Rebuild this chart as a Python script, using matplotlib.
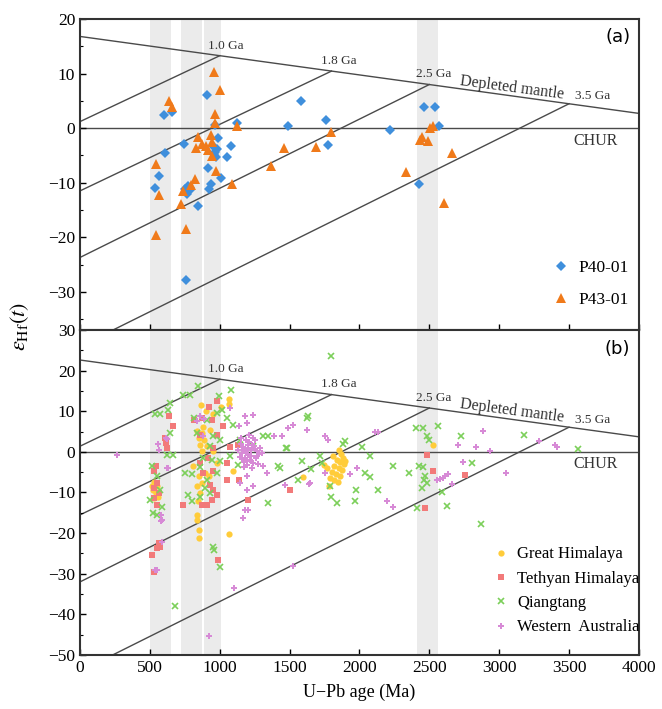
import numpy as np
import matplotlib
matplotlib.use("Agg")
import matplotlib.pyplot as plt
from matplotlib.ticker import MultipleLocator

plt.rcParams["font.family"] = ["Liberation Serif", "DejaVu Serif"]
plt.rcParams["mathtext.fontset"] = "stix"

# grey age windows (Ma)
age_bands = [(500, 650), (720, 870), (890, 1010), (2410, 2560)]
model_ages = [1000, 1800, 2500, 3500]
model_labels = ["1.0 Ga", "1.8 Ga", "2.5 Ga", "3.5 Ga"]

# depleted mantle and crustal evolution reference frames for each panel
dm_a = (16.8, 2.7)          # eHf at 0 and 4000 Ma
crust_a = [1.2, -11.5, -23.7, -40.0]   # intercepts at 0 Ma
dm_b = (22.6, 3.7)
crust_b = [1.4, -15.5, -32.0, -54.0]

# (a) detrital zircons
p40_age = [601, 656, 911, 964, 611, 742, 565, 534, 750, 762, 775, 785, 768, 790,
           844, 756, 920, 937, 918, 960, 968, 975, 962, 980, 987, 1052, 1078, 1011,
           1121, 1581, 1488, 1760, 1774, 2220, 2461, 2542, 2568, 2425]
p40_eps = [2.4, 3.0, 6.1, 0.5, -4.5, -2.9, -8.7, -11.0, -11.2, -11.8, -10.6, -11.4,
           -12.0, -10.9, -14.2, -27.9, -11.1, -10.2, -7.3, -3.5, -4.4, -5.3, -4.8,
           -3.9, -1.8, -5.3, -3.2, -9.2, 1.0, 5.0, 0.4, 1.4, -3.1, -0.3, 3.9, 3.9,
           0.4, -10.2]
p43_age = [956, 999, 637, 660, 966, 966, 1121, 542, 563, 542, 758, 720, 825, 794,
           735, 842, 830, 873, 901, 935, 944, 916, 942, 973, 1085, 1364, 1459, 1688,
           1796, 2506, 2523, 2451, 2432, 2492, 2664, 2332, 2607]
p43_eps = [10.2, 7.0, 4.9, 3.8, 2.5, 0.9, 0.4, -6.6, -12.2, -19.6, -18.5, -13.9,
           -9.4, -10.4, -11.6, -1.7, -3.7, -3.0, -3.3, -1.2, -2.6, -4.1, -5.2, -7.8,
           -10.3, -6.9, -3.6, -3.4, -0.8, 0.0, 0.3, -1.6, -2.2, -2.3, -4.6, -8.1,
           -13.8]

# (b) compiled data
gh_age = [529, 549, 520, 544, 560, 529, 513, 863, 899, 835, 870, 854, 887, 859,
          906, 870, 930, 954, 882, 1068, 1064, 1006, 954, 811, 854, 870, 835, 859,
          847, 835, 840, 851, 851, 1068, 925, 978, 1097, 894, 1850, 1870, 1880,
          1840, 1860, 1890, 1820, 1850, 1875, 1800, 1835, 1860, 1790, 1820, 1845,
          1770, 1745, 1810, 1900, 1780, 1598, 2524]
gh_eps = [-7.3, -8.5, -9.3, -10.2, -11.0, -11.4, -8.5, 11.6, 10.0, 5.2, 4.7, 3.4,
          3.0, 1.8, 1.4, 0.3, 5.5, 0.1, 6.1, 13.0, 11.7, 11.1, 9.3, -3.6, -6.0,
          -7.7, -8.5, -10.2, -12.2, -15.5, -16.7, -19.2, -21.3, -20.3, -6.0, -2.8,
          -4.8, -5.2, 0.5, -0.5, -1.5, -2.0, -2.5, -3.0, -3.5, -4.0, -4.5, -5.0,
          -5.5, -6.0, -6.5, -7.0, -7.5, -4.0, -3.2, -1.0, -2.2, -8.3, -6.2, 1.8]
th_age = [637, 663, 608, 615, 620, 544, 529, 549, 532, 568, 529, 549, 513, 532,
          568, 553, 572, 925, 983, 873, 947, 1026, 816, 859, 978, 954, 1073, 1133,
          918, 859, 1049, 954, 882, 1049, 1140, 930, 954, 978, 942, 870, 906, 735,
          1204, 987, 1503, 2481, 2528, 2755, 2469]
th_eps = [8.8, 6.3, 3.4, 2.2, 1.0, -3.6, -4.8, -7.7, -8.9, -10.2, -11.4, -13.0,
          -25.4, -29.5, -22.5, -23.7, -23.3, 11.1, 12.5, 8.4, 7.8, 6.3, 7.9, 4.2,
          4.2, 1.0, 1.3, 1.7, -1.5, -2.8, -2.8, -4.8, -5.2, -6.9, -6.9, -8.1, -9.3,
          -10.6, -11.8, -13.0, -13.0, -13.0, -11.8, -26.5, -9.3, -0.7, -4.6, -5.8,
          -13.9]
qt_age = [847, 739, 787, 997, 1080, 644, 632, 572, 537, 644, 620, 668, 816, 906,
          1049, 978, 1014, 835, 954, 1002, 930, 1097, 1144, 882, 942, 1002, 1073,
          859, 978, 906, 751, 804, 894, 930, 775, 799, 859, 954, 961, 1002, 680,
          513, 501, 520, 553, 584, 572, 549, 1133, 1240, 1312, 1348, 1348, 1419,
          1479, 1622, 1586, 1562, 1729, 1795, 1634, 1474, 1431, 1717, 1896, 2020,
          2075, 2237, 2039, 2075, 1789, 1653, 1975, 1794, 1884, 2135, 1837, 1968,
          2404, 2457, 2564, 2481, 2500, 2428, 2452, 2469, 2464, 2481, 2445, 2409,
          2588, 2628, 2724, 2807, 2867, 3180, 3561, 2354]
qt_eps = [16.2, 14.1, 13.9, 13.7, 15.3, 12.1, 10.4, 9.2, 9.2, 4.7, -0.7, -0.7,
          8.4, 7.9, 8.4, 9.6, 10.4, 4.7, 3.8, 3.0, 1.4, 6.7, 3.0, -1.5, -1.9, -2.3,
          -1.1, -3.8, -5.2, -6.9, -5.2, -5.4, -8.9, -10.2, -10.6, -12.2, -11.0,
          -23.3, -24.2, -28.3, -38.0, -3.6, -11.8, -15.1, -15.5, -13.5, -9.3, -6.0,
          -3.2, 1.4, 3.8, 3.8, -12.5, -3.6, 1.0, 8.4, -2.3, -6.9, -2.8, 23.5, 8.8,
          1.0, -4.0, -1.1, 2.6, 1.1, -0.9, -3.4, -5.1, -6.3, -8.5, -4.1, -9.5,
          -11.0, 2.0, -9.3, -12.6, -12.0, 5.8, 5.8, 6.3, 3.8, 3.0, -3.4, -3.8, -6.0,
          -6.9, -7.7, -8.9, -13.9, -9.8, -13.4, 3.9, -2.8, -17.8, 4.2, 0.6, -5.1]
wa_age = [1130, 1145, 1150, 1160, 1165, 1170, 1175, 1180, 1185, 1190, 1195, 1200,
          1205, 1210, 1215, 1220, 1225, 1230, 1240, 1250, 1255, 1260, 1270, 1280,
          1290, 1300, 1150, 1175, 1195, 1210, 1230, 1245, 1265, 1185, 1205, 1225,
          1160, 1240, 1275, 1215, 267, 560, 568, 613, 632, 577, 584, 537, 925,
          1104, 1526, 859, 882, 1073, 620, 620, 835, 885, 1181, 1240, 1193, 1140,
          1388, 1443, 1491, 1526, 1622, 1753, 1777, 1312, 1336, 1193, 1145, 1193,
          1181, 1204, 1169, 1240, 1646, 1753, 1467, 1980, 2111, 1641, 2135, 1932,
          2194, 2237, 2707, 2831, 2886, 2934, 2738, 2576, 2595, 2612, 2633, 2552,
          2659, 3048, 3287, 3399, 3411, 589, 548, 580, 580]
wa_eps = [0.5, -1.2, 2.0, -0.3, 1.2, -2.5, 0.8, -1.5, 3.0, 0.0, -3.2, 1.6, -0.8,
          2.4, -2.0, 0.4, -1.0, 1.8, -2.8, 0.6, 2.8, -1.6, 0.2, -0.6, 1.0, -0.2,
          3.5, -3.8, -1.9, 4.1, -4.0, 1.4, -0.9, -0.4, 0.9, -2.3, -1.8, 3.3, -3.0,
          -1.1, -0.7, 2.0, 0.5, 3.4, -4.0, -15.5, -16.7, -29.1, -45.4, -33.6,
          -28.1, 8.8, 3.8, 10.8, -4.0, 3.1, 7.6, 8.0, 8.8, 9.0, 7.1, 6.3, 3.8, 3.8,
          5.9, 6.7, 5.5, 3.8, 3.0, -3.6, -5.2, -6.0, -7.7, -9.3, -14.3, -14.3,
          -16.3, -8.5, -7.7, -5.2, -8.1, -4.0, 4.9, -7.9, 4.8, -5.5, -12.2, -13.6,
          1.6, 1.2, 5.2, 0.3, -2.6, -6.8, -6.4, -5.9, -5.4, -7.0, -7.8, -5.1, 2.7,
          1.8, 1.1, -22.3, -29.1, -15.5, -17.0]

line_kw = dict(color="#4a4a4a", lw=1.0, zorder=1)
text_kw = dict(fontsize=9.5, color="#333333")


def draw_frame(ax, dm, crust, ylim):
    for lo, hi in age_bands:
        ax.axvspan(lo, hi, color="#ebebeb", lw=0, zorder=0)
    dm_eps = lambda t: dm[0] + (dm[1] - dm[0]) * t / 4000.0
    ax.plot([0, 4000], [dm_eps(0), dm_eps(4000)], **line_kw)
    ax.axhline(0, **line_kw)
    for age, b in zip(model_ages, crust):
        ax.plot([0, age], [b, dm_eps(age)], **line_kw)
    offsets = [(4, 3), (5, 3), (3, 3), (17, 1)]
    for age, lab, off in zip(model_ages, model_labels, offsets):
        ax.annotate(lab, (age, dm_eps(age)), xytext=off, textcoords="offset points",
                    ha="center", va="bottom", **text_kw)
    ax.annotate("Depleted mantle", (3090, dm_eps(3090)), xytext=(0, 6),
                textcoords="offset points", ha="center", va="center",
                rotation=-7.5, fontsize=11.5, color="#333333")
    ax.annotate("CHUR", (3690, 0), xytext=(0, -9), textcoords="offset points",
                ha="center", va="center", fontsize=11.5, color="#333333")
    ax.set_xlim(0, 4000)
    ax.set_ylim(*ylim)
    ax.xaxis.set_major_locator(MultipleLocator(500))
    ax.yaxis.set_major_locator(MultipleLocator(10))
    ax.yaxis.set_minor_locator(MultipleLocator(5))
    ax.tick_params(which="both", direction="in", labelsize=12.5, top=False, right=False)
    ax.tick_params(which="major", length=4, width=1.0)
    ax.tick_params(which="minor", length=2.5, width=0.8)
    for sp in ax.spines.values():
        sp.set_linewidth(1.5)
        sp.set_color("#333333")


fig = plt.figure(figsize=(6.62, 7.09), dpi=100)
ax_a = fig.add_axes([0.121, 0.5346, 0.844, 0.4386])
ax_b = fig.add_axes([0.121, 0.0762, 0.844, 0.4584])

draw_frame(ax_a, dm_a, crust_a, (-37, 20))
draw_frame(ax_b, dm_b, crust_b, (-50, 30))
ax_a.tick_params(axis="x", labelbottom=False)

ax_a.plot(p40_age, p40_eps, "D", color="#3f8fdc", ms=5, mew=0, zorder=3, label="P40-01")
ax_a.plot(p43_age, p43_eps, "^", color="#f07a1a", ms=6.5, mew=0, zorder=3, label="P43-01")

ax_b.plot(gh_age, gh_eps, "o", color="#ffcc3a", ms=4.5, mew=0, zorder=3, label="Great Himalaya")
ax_b.plot(th_age, th_eps, "s", color="#f27a7a", ms=4.2, mew=0, zorder=3, label="Tethyan Himalaya")
ax_b.plot(qt_age, qt_eps, "x", color="#7ccf5a", ms=4.5, mew=1.2, zorder=3, label="Qiangtang")
ax_b.plot(wa_age, wa_eps, "P", color="#d78ad6", ms=4.5, mew=0, zorder=3, label="Western  Australia")

ax_a.legend(loc="upper left", bbox_to_anchor=(0.845, 0.226), frameon=False,
            borderpad=0, handlelength=1.0, handletextpad=0.5, labelspacing=0.9,
            fontsize=12.5, borderaxespad=0)
ax_b.legend(loc="upper left", bbox_to_anchor=(0.738, 0.334), frameon=False,
            borderpad=0, handlelength=1.0, handletextpad=0.5, labelspacing=0.5,
            fontsize=12, borderaxespad=0)

ax_a.text(0.985, 0.97, "(a)", transform=ax_a.transAxes, ha="right", va="top",
          fontsize=13, family="DejaVu Sans")
ax_b.text(0.985, 0.97, "(b)", transform=ax_b.transAxes, ha="right", va="top",
          fontsize=13, family="DejaVu Sans")

fig.text(0.03, 0.54, r"$\varepsilon_{\mathrm{Hf}}(t)$", rotation=90,
         ha="center", va="center", fontsize=16)
ax_b.set_xlabel("U\u2212Pb age (Ma)", fontsize=13, labelpad=6)

fig.savefig("out.png", dpi=100)
